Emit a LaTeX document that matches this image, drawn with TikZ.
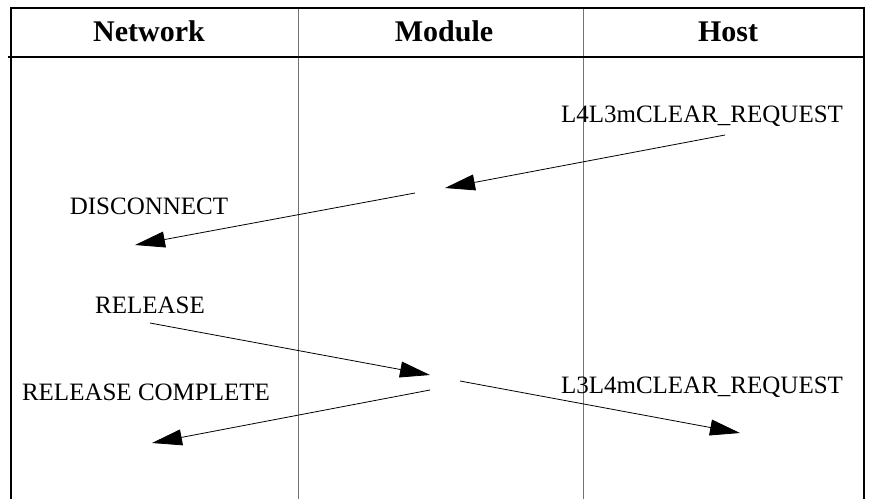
\documentclass[tikz,border=0pt]{standalone}
\usepackage{fontspec}
\setmainfont{Liberation Serif}
\usetikzlibrary{arrows.meta}
\begin{document}
\begin{tikzpicture}[x=1pt,y=-1pt,
  frame/.style={line width=2pt,black},
  divider/.style={line width=1pt,black!55},
  hdr/.style={font=\fontsize{30}{34}\selectfont\bfseries,anchor=base,inner sep=0pt},
  lbl/.style={font=\fontsize{25}{29}\selectfont,anchor=base,inner sep=0pt},
  msg/.style={line width=0.8pt,-{Triangle[length=30pt,width=16pt]}}]
\useasboundingbox (0,0) rectangle (870,499);
% frame
\draw[divider] (298,7) -- (298,499);
\draw[divider] (583,7) -- (583,499);
\draw[frame] (11,499) -- (11,8) -- (864,8) -- (864,499);
\draw[frame] (8,57) -- (864,57);
% headers
\node[hdr] (hnet) at (149,41) {Network};
\node[hdr] (hmod) at (444,41) {Module};
\node[hdr] (hhost) at (728,41) {Host};
% labels
\node[lbl] (l1) at (702,122) {L4L3mCLEAR\_REQUEST};
\node[lbl] (l2) at (149,214) {DISCONNECT};
\node[lbl] (l3) at (150,313) {RELEASE};
\node[lbl] (l4) at (146,400) {RELEASE COMPLETE};
\node[lbl] (l5) at (702,393) {L3L4mCLEAR\_REQUEST};
% message end points
\coordinate (a1s) at (725,135); \coordinate (a1e) at (445,188);
\coordinate (a2s) at (415,193); \coordinate (a2e) at (135,245);
\coordinate (a3s) at (150,323); \coordinate (a3e) at (430,375);
\coordinate (a4s) at (430,390); \coordinate (a4e) at (152,443);
\coordinate (a5s) at (460,381); \coordinate (a5e) at (740,433);
\draw[msg] (a1s) -- (a1e);
\draw[msg] (a2s) -- (a2e);
\draw[msg] (a3s) -- (a3e);
\draw[msg] (a4s) -- (a4e);
\draw[msg] (a5s) -- (a5e);
\end{tikzpicture}
\end{document}
